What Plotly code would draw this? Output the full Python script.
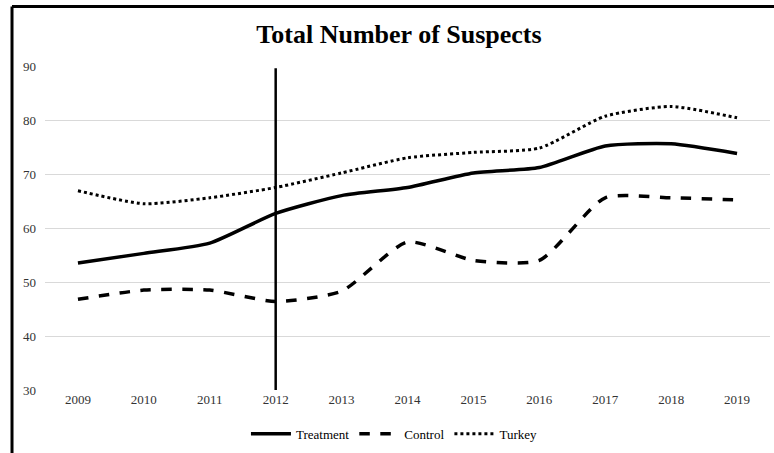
import plotly.graph_objects as go

# Data
years = ["2009", "2010", "2011", "2012", "2013", "2014", "2015", "2016", "2017", "2018", "2019"]
treatment = [53.5, 55.3, 57.2, 62.7, 66.0, 67.5, 70.2, 71.2, 75.2, 75.6, 73.8]
control = [46.8, 48.5, 48.5, 46.4, 48.3, 57.4, 54.0, 54.0, 65.6, 65.6, 65.2]
turkey = [66.9, 64.5, 65.6, 67.5, 70.2, 73.0, 74.0, 74.8, 80.7, 82.5, 80.4]
break_year = "2012"
break_span = [30, 89.6]

serif = "Liberation Serif, Times New Roman, serif"

fig = go.Figure()

fig.add_trace(go.Scatter(
    x=years, y=treatment, name="Treatment", mode="lines",
    line=dict(color="black", width=3.5, shape="spline", smoothing=0.6)))
fig.add_trace(go.Scatter(
    x=years, y=control, name="Control", mode="lines",
    line=dict(color="black", width=3.5, dash="dash", shape="spline", smoothing=0.6)))
fig.add_trace(go.Scatter(
    x=years, y=turkey, name="Turkey", mode="lines",
    line=dict(color="black", width=3, dash="dot", shape="spline", smoothing=0.6)))

# vertical marker at the policy year
fig.add_trace(go.Scatter(
    x=[break_year, break_year], y=break_span, mode="lines",
    line=dict(color="black", width=2.5), showlegend=False, hoverinfo="skip"))

fig.update_layout(
    width=774, height=453,
    margin=dict(l=45, r=4, t=66, b=63),
    paper_bgcolor="white", plot_bgcolor="white",
    font=dict(family=serif, color="#333333", size=13),
    title=dict(text="<b>Total Number of Suspects</b>", x=0.5155, xanchor="center",
               y=0.925, yanchor="middle",
               font=dict(family=serif, size=26, color="black")),
    legend=dict(orientation="h", x=0.482, xanchor="center", y=-0.135, yanchor="middle",
                font=dict(family=serif, size=13, color="black"),
                itemwidth=40, tracegroupgap=0),
    showlegend=True,
)

fig.update_xaxes(type="category", range=[-0.5, 10.5], showgrid=False, zeroline=False,
                 showline=False, ticks="", tickfont=dict(size=13, color="#333333"))
fig.update_yaxes(range=[30, 90], dtick=10, showgrid=True, gridcolor="#d9d9d9", gridwidth=1,
                 zeroline=False, showline=False, ticks="", ticklabelstandoff=8,
                 tickfont=dict(size=13, color="#333333"))

# outer chart border (left and top edges visible)
fig.add_shape(type="line", xref="paper", yref="paper", x0=-0.0455, x1=-0.0455,
              y0=-0.2, y1=1.184, line=dict(color="black", width=3))
fig.add_shape(type="line", xref="paper", yref="paper", x0=-0.0455, x1=1.01,
              y0=1.184, y1=1.184, line=dict(color="black", width=3))

fig.write_html("out.html", config={"displayModeBar": False},
               post_script="document.body.style.margin='0';")
